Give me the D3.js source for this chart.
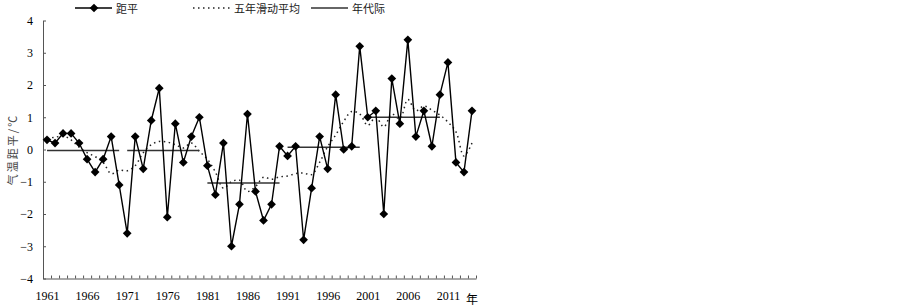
<!DOCTYPE html>
<html>
<head>
<meta charset="utf-8">
<script src="https://cdn.jsdelivr.net/npm/d3@7"></script>
<style>
  body { margin: 0; background: #fff; }
  svg { display: block; }
</style>
</head>
<body>
<div class="canvas"></div>
<script>
// categories
var years = d3.range(1961, 2015);
var labelYears = [1961, 1966, 1971, 1976, 1981, 1986, 1991, 1996, 2001, 2006, 2011];
var yTicks = [-4, -3, -2, -1, 0, 1, 2, 3, 4];

// 距平
var anomaly = [0.3, 0.2, 0.5, 0.5, 0.2, -0.3, -0.7, -0.3, 0.4, -1.1,
               -2.6, 0.4, -0.6, 0.9, 1.9, -2.1, 0.8, -0.4, 0.4, 1.0,
               -0.5, -1.4, 0.2, -3.0, -1.7, 1.1, -1.3, -2.2, -1.7, 0.1,
               -0.2, 0.1, -2.8, -1.2, 0.4, -0.6, 1.7, 0.0, 0.1, 3.2,
               1.0, 1.2, -2.0, 2.2, 0.8, 3.4, 0.4, 1.2, 0.1, 1.7,
               2.7, -0.4, -0.7, 1.2];

// 五年滑动平均
var movingAvg = [0.35, 0.38, 0.42, 0.3, 0.07, -0.1, -0.22, -0.4, -0.75, -0.64,
                 -0.66, -0.5, -0.1, 0.15, 0.25, 0.23, 0.15, 0.05, 0.2, -0.06,
                 -0.3, -0.7, -1.2, -1.0, -0.95, -1.3, -1.15, -0.86, -0.92, -0.85,
                 -0.82, -0.75, -0.73, -0.78, -0.4, 0.09, 0.45, 0.87, 1.18, 1.1,
                 0.75, 1.0, 0.7, 1.1, 0.95, 1.55, 1.2, 1.35, 1.22, 1.07,
                 0.85, 0.55, -0.2, 0.2];

// 年代际
var decadeStart = [1961, 1971, 1981, 1991, 2001];
var decadeEnd = [1970, 1980, 1990, 2000, 2010];
var decadeMean = [-0.03, -0.03, -1.04, 0.07, 1.0];

var width = 903, height = 306;
var plotLeft = 43, plotRight = 476, plotTop = 20.5, plotBottom = 278.5;
var numFont = "'Liberation Serif', 'Times New Roman', serif";
var cjkFont = "'Noto Sans CJK SC', sans-serif";

var svg = d3.select(".canvas")
  .append("svg")
    .attr("width", width)
    .attr("height", height)
    .style("background-color", "#fff");

var x = d3.scaleLinear()
  .domain([years[0] - 0.5, years[years.length - 1] + 0.5])
  .range([plotLeft, plotRight]);

var y = d3.scaleLinear()
  .domain([-4, 4])
  .range([plotBottom, plotTop]);

// Y axis
var yAxis = svg.append("g")
  .attr("transform", "translate(" + plotLeft + ",0)")
  .call(d3.axisLeft(y).tickValues(yTicks).tickSize(-3).tickSizeOuter(0).tickPadding(10));
yAxis.selectAll("text")
  .style("font-family", numFont)
  .style("font-size", "12px")
  .attr("fill", "#000");
yAxis.selectAll("path, line").attr("stroke", "#555");

// X axis: ticks between categories
var xTicks = svg.append("g")
  .attr("transform", "translate(0," + plotBottom + ")")
  .call(d3.axisBottom(x)
    .tickValues(years.map(function(d) { return d - 0.5; }).concat([years[years.length - 1] + 0.5]))
    .tickSize(-3).tickSizeOuter(0).tickFormat(""));
xTicks.selectAll("path, line").attr("stroke", "#555");

var xLabels = svg.append("g")
  .attr("transform", "translate(0," + plotBottom + ")")
  .call(d3.axisBottom(x).tickValues(labelYears).tickSize(0).tickPadding(13).tickFormat(d3.format("d")));
xLabels.select(".domain").remove();
xLabels.selectAll("text")
  .style("font-family", numFont)
  .style("font-size", "12px")
  .attr("fill", "#000");

svg.append("text")
  .attr("x", x(years[years.length - 1] + 0.5) - 10)
  .attr("y", plotBottom + 25)
  .text("年")
  .style("font-family", cjkFont)
  .style("font-size", "12px");

// Y axis label
svg.append("text")
  .attr("transform", "translate(17," + y(0) + ") rotate(-90)")
  .attr("text-anchor", "middle")
  .text("气温距平/℃")
  .style("font-family", cjkFont)
  .style("font-size", "11px")
  .style("letter-spacing", "2px")
  .style("fill", "#444");

// moving average (dotted)
var maLine = d3.line()
  .x(function(d, i) { return x(years[i]); })
  .y(function(d) { return y(d); })
  .curve(d3.curveCatmullRom.alpha(0.5));
svg.append("path")
  .datum(movingAvg)
  .attr("d", maLine)
  .attr("fill", "none")
  .attr("stroke", "#222")
  .attr("stroke-width", 1.5)
  .attr("stroke-dasharray", "1.5,3.5");

// decade means
svg.selectAll("line.decade")
  .data(decadeMean)
  .enter()
  .append("line")
    .attr("class", "decade")
    .attr("x1", function(d, i) { return x(decadeStart[i]); })
    .attr("x2", function(d, i) { return x(decadeEnd[i]); })
    .attr("y1", function(d) { return y(d); })
    .attr("y2", function(d) { return y(d); })
    .attr("stroke", "#333")
    .attr("stroke-width", 1.6);

// anomaly line
var anLine = d3.line()
  .x(function(d, i) { return x(years[i]); })
  .y(function(d) { return y(d); });
svg.append("path")
  .datum(anomaly)
  .attr("d", anLine)
  .attr("fill", "none")
  .attr("stroke", "#000")
  .attr("stroke-width", 1.4);

var diamond = d3.symbol().type(d3.symbolSquare).size(38);
svg.selectAll("path.marker")
  .data(anomaly)
  .enter()
  .append("path")
    .attr("class", "marker")
    .attr("d", diamond)
    .attr("transform", function(d, i) {
      return "translate(" + x(years[i]) + "," + y(d) + ") rotate(45)";
    })
    .attr("fill", "#000");

// legend
var legend = svg.append("g").attr("transform", "translate(0,8)");
legend.append("line")
  .attr("x1", 75).attr("x2", 112).attr("y1", 0).attr("y2", 0)
  .attr("stroke", "#000").attr("stroke-width", 1.4);
legend.append("path")
  .attr("d", diamond)
  .attr("transform", "translate(94,0) rotate(45)")
  .attr("fill", "#000");
legend.append("text")
  .attr("x", 116).attr("y", 5)
  .text("距平");

legend.append("line")
  .attr("x1", 193).attr("x2", 230).attr("y1", 0).attr("y2", 0)
  .attr("stroke", "#222").attr("stroke-width", 1.5)
  .attr("stroke-dasharray", "1.5,3.5");
legend.append("text")
  .attr("x", 234).attr("y", 5)
  .text("五年滑动平均");

legend.append("line")
  .attr("x1", 311).attr("x2", 348).attr("y1", 0).attr("y2", 0)
  .attr("stroke", "#333").attr("stroke-width", 1.6);
legend.append("text")
  .attr("x", 352).attr("y", 5)
  .text("年代际");

legend.selectAll("text")
  .style("font-family", cjkFont)
  .style("font-size", "11px")
  .style("fill", "#222");
</script>
</body>
</html>
